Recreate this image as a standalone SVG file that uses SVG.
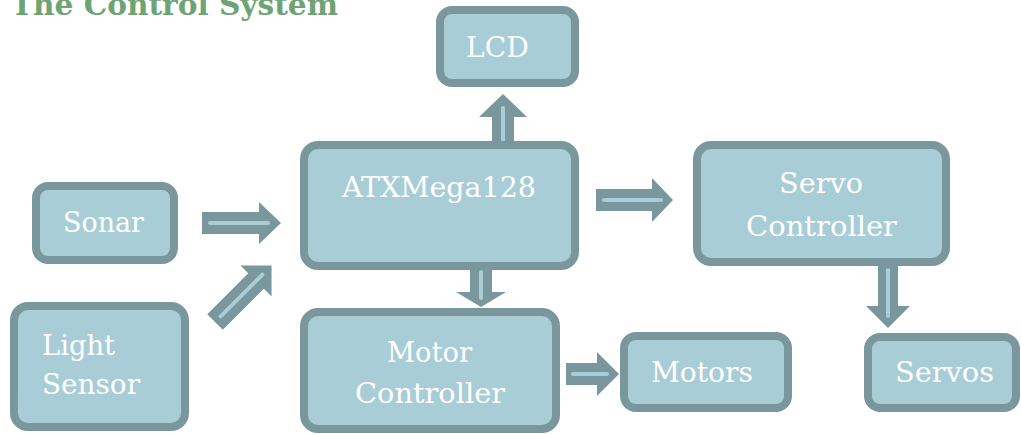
<svg xmlns="http://www.w3.org/2000/svg" width="1021" height="434" viewBox="0 0 1021 434">
<style>
.box{fill:#a9cdd6;stroke:#7b979e;stroke-width:8}
.lbl{font-family:"DejaVu Serif","Liberation Serif",serif;font-size:27px;fill:#ffffff}
.arr{fill:#7b979e}
.in{stroke:#a9cdd6;stroke-width:4;stroke-linecap:round;fill:none}
.title{font-family:"DejaVu Serif","Liberation Serif",serif;font-weight:bold;font-size:30px;fill:#6ea475}
</style>
<rect width="1021" height="434" fill="#ffffff"/>
<text class="title" x="11" y="15" textLength="327" lengthAdjust="spacingAndGlyphs">The Control System</text>

<g id="connectors">
  <g transform="translate(202,223)">
    <polygon class="arr" points="0,-11 57,-11 57,-21 79,0 57,21 57,11 0,11"/>
    <line class="in" x1="8" y1="0" x2="66" y2="0"/>
  </g>
  <g transform="translate(215,322) rotate(-45)">
    <polygon class="arr" points="0,-11 58,-11 58,-22 80,0 58,22 58,11 0,11"/>
    <line class="in" x1="8" y1="0" x2="67" y2="0"/>
  </g>
  <g transform="translate(503,141) rotate(-90)">
    <polygon class="arr" points="0,-11 24,-11 24,-24 47,0 24,24 24,11 0,11"/>
    <line class="in" x1="0" y1="0" x2="33" y2="0"/>
  </g>
  <g transform="translate(596,200)">
    <polygon class="arr" points="0,-11 56,-11 56,-22 77,0 56,22 56,11 0,11"/>
    <line class="in" x1="8" y1="0" x2="65" y2="0"/>
  </g>
  <g transform="translate(888,266) rotate(90)">
    <polygon class="arr" points="0,-10 40,-10 40,-22 62,0 40,22 40,10 0,10"/>
    <line class="in" x1="4" y1="0" x2="50" y2="0"/>
  </g>
  <g transform="translate(481,270) rotate(90)">
    <polygon class="arr" points="0,-11 22,-11 22,-25 37,0 22,25 22,11 0,11"/>
    <line class="in" x1="2" y1="0" x2="28" y2="0"/>
  </g>
  <g transform="translate(566,374)">
    <polygon class="arr" points="0,-11 31,-11 31,-22 53,0 31,22 31,11 0,11"/>
    <line class="in" x1="7" y1="0" x2="41" y2="0"/>
  </g>
</g>

<g id="lcd">
  <rect class="box" x="440" y="10" width="135" height="73" rx="12"/>
  <text class="lbl" x="466" y="57" textLength="63" lengthAdjust="spacingAndGlyphs">LCD</text>
</g>
<g id="sonar">
  <rect class="box" x="36" y="186" width="138" height="74" rx="12"/>
  <text class="lbl" x="63" y="232" textLength="81" lengthAdjust="spacingAndGlyphs">Sonar</text>
</g>
<g id="light-sensor">
  <rect class="box" x="14" y="306" width="171" height="121" rx="14"/>
  <text class="lbl" x="42" y="355" textLength="73" lengthAdjust="spacingAndGlyphs">Light</text>
  <text class="lbl" x="42" y="394" textLength="98" lengthAdjust="spacingAndGlyphs">Sensor</text>
</g>
<g id="atxmega128">
  <rect class="box" x="304" y="145" width="271" height="121" rx="14"/>
  <text class="lbl" x="342" y="197" textLength="194" lengthAdjust="spacingAndGlyphs">ATXMega128</text>
</g>
<g id="motor-controller">
  <rect class="box" x="304" y="312" width="252" height="117" rx="14"/>
  <text class="lbl" x="387" y="362" textLength="85" lengthAdjust="spacingAndGlyphs">Motor</text>
  <text class="lbl" x="355" y="403" textLength="150" lengthAdjust="spacingAndGlyphs">Controller</text>
</g>
<g id="motors">
  <rect class="box" x="624" y="336" width="164" height="72" rx="12"/>
  <text class="lbl" x="651" y="382" textLength="102" lengthAdjust="spacingAndGlyphs">Motors</text>
</g>
<g id="servo-controller">
  <rect class="box" x="697" y="145" width="249" height="117" rx="14"/>
  <text class="lbl" x="779" y="193" textLength="84" lengthAdjust="spacingAndGlyphs">Servo</text>
  <text class="lbl" x="746" y="236" textLength="151" lengthAdjust="spacingAndGlyphs">Controller</text>
</g>
<g id="servos">
  <rect class="box" x="868" y="337" width="148" height="71" rx="12"/>
  <text class="lbl" x="895" y="382" textLength="99" lengthAdjust="spacingAndGlyphs">Servos</text>
</g>
</svg>
